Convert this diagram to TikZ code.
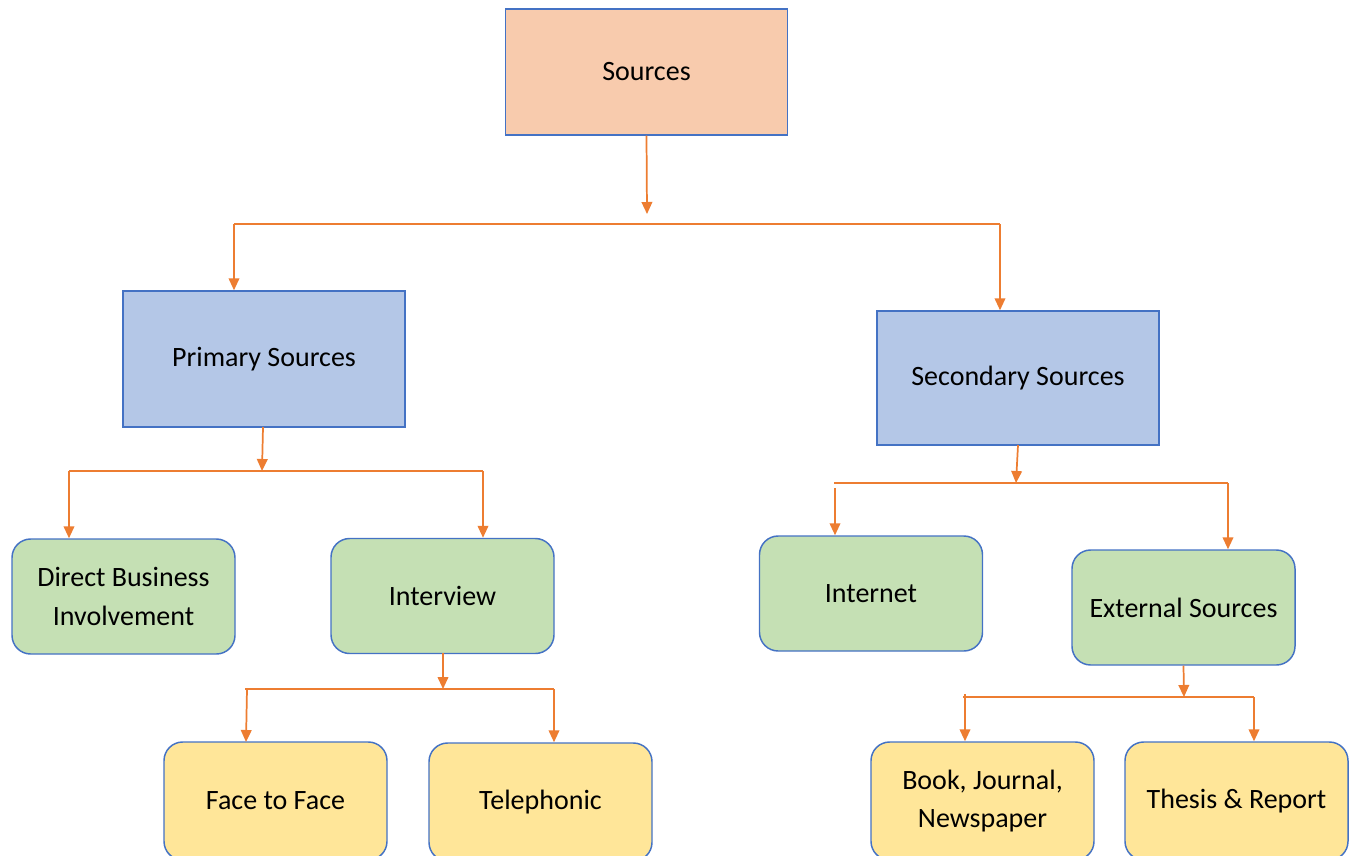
\documentclass[tikz,border=0pt]{standalone}
\usepackage{fontspec}
\setmainfont{Carlito}
\usetikzlibrary{arrows.meta}
\definecolor{cOrange}{HTML}{ED7D31}
\definecolor{cBlue}{HTML}{4472C4}
\definecolor{cPeach}{HTML}{F8CBAD}
\definecolor{cLBlue}{HTML}{B4C7E7}
\definecolor{cGreen}{HTML}{C5E0B4}
\definecolor{cYellow}{HTML}{FFE699}
\tikzset{
  box/.style={draw=cBlue, line width=1.1pt, align=center, inner sep=0pt,
    font=\fontsize{21}{25}\selectfont, text=black},
  rectbox/.style={box, minimum width=282*0.75pt, minimum height=135*0.75pt},
  rbox/.style={box, rounded corners=14pt, minimum width=223*0.75pt, minimum height=115*0.75pt},
  ybox/.style={rbox, fill=cYellow, minimum height=118*0.75pt},
  ln/.style={draw=cOrange, line width=1.3pt},
  arr/.style={ln, -{Triangle[length=9pt,width=8pt]}},
}
\begin{document}
\begin{tikzpicture}[x=0.75pt,y=-0.75pt]
\useasboundingbox (0,0) rectangle (1356,856);
\clip (0,0) rectangle (1356,856);
% nodes
\node[rectbox, fill=cPeach, minimum height=126*0.75pt] (src) at (646.5,72) {Sources};
\node[rectbox, fill=cLBlue, minimum height=136*0.75pt] (prim) at (264,359) {Primary Sources};
\node[rectbox, fill=cLBlue, minimum height=134*0.75pt] (sec) at (1018,378) {Secondary Sources};
\node[rbox, fill=cGreen] (dbi) at (123.5,596.5) {Direct Business\\[4pt]Involvement};
\node[rbox, fill=cGreen] (intv) at (442.5,596) {Interview};
\node[rbox, fill=cGreen] (inet) at (871,593.5) {Internet};
\node[rbox, fill=cGreen] (ext) at (1183.5,607.5) {External Sources};
\node[ybox] (f2f) at (275.5,801) {Face to Face};
\node[ybox] (tel) at (540.5,802) {Telephonic};
\node[ybox] (book) at (982.5,801) {Book, Journal,\\[4pt]Newspaper};
\node[ybox] (thes) at (1236.5,801) {Thesis \& Report};
% level 1
\coordinate (j1) at (647,214);
\coordinate (h1l) at (234,224);
\coordinate (h1r) at (1000,224);
\draw[arr] (src.south) -- (j1);
\draw[ln] (h1l) -- (h1r);
\draw[arr] (h1l) -- (h1l |- prim.north);
\draw[arr] (h1r) -- (h1r |- sec.north);
% primary
\coordinate (j2a) at (263,427);
\coordinate (j2) at (262,471);
\coordinate (h2l) at (69,471);
\coordinate (h2r) at (483,471);
\draw[arr] (j2a) -- (j2);
\draw[ln] (h2l) -- (h2r);
\draw[arr] (h2l) -- (h2l |- dbi.north);
\draw[arr] (h2r) -- (h2r |- intv.north);
% secondary
\coordinate (j3a) at (1018,445);
\coordinate (j3) at (1016,483);
\coordinate (h3l) at (834,483);
\coordinate (h3r) at (1228,483);
\coordinate (h3d) at (835,488);
\draw[arr] (j3a) -- (j3);
\draw[ln] (h3l) -- (h3r);
\draw[arr] (h3d) -- (h3d |- inet.north);
\draw[arr] (h3r) -- (h3r |- ext.north);
% interview
\coordinate (j4a) at (443,653);
\coordinate (j4) at (443,689);
\coordinate (h4l) at (245,689);
\coordinate (h4r) at (554,689);
\coordinate (h4d) at (247,689);
\coordinate (f2ftop) at (246,742);
\draw[arr] (j4a) -- (j4);
\draw[ln] (h4l) -- (h4r);
\draw[arr] (h4d) -- (f2ftop);
\draw[arr] (h4r) -- (h4r |- tel.north);
% external
\coordinate (j5) at (1184,697);
\coordinate (h5l) at (963,697);
\coordinate (h5r) at (1254,697);
\coordinate (h5d) at (965,694);
\draw[arr] (ext.south) -- (j5);
\draw[ln] (h5l) -- (h5r);
\draw[arr] (h5d) -- (h5d |- book.north);
\draw[arr] (h5r) -- (h5r |- thes.north);
\end{tikzpicture}
\end{document}
